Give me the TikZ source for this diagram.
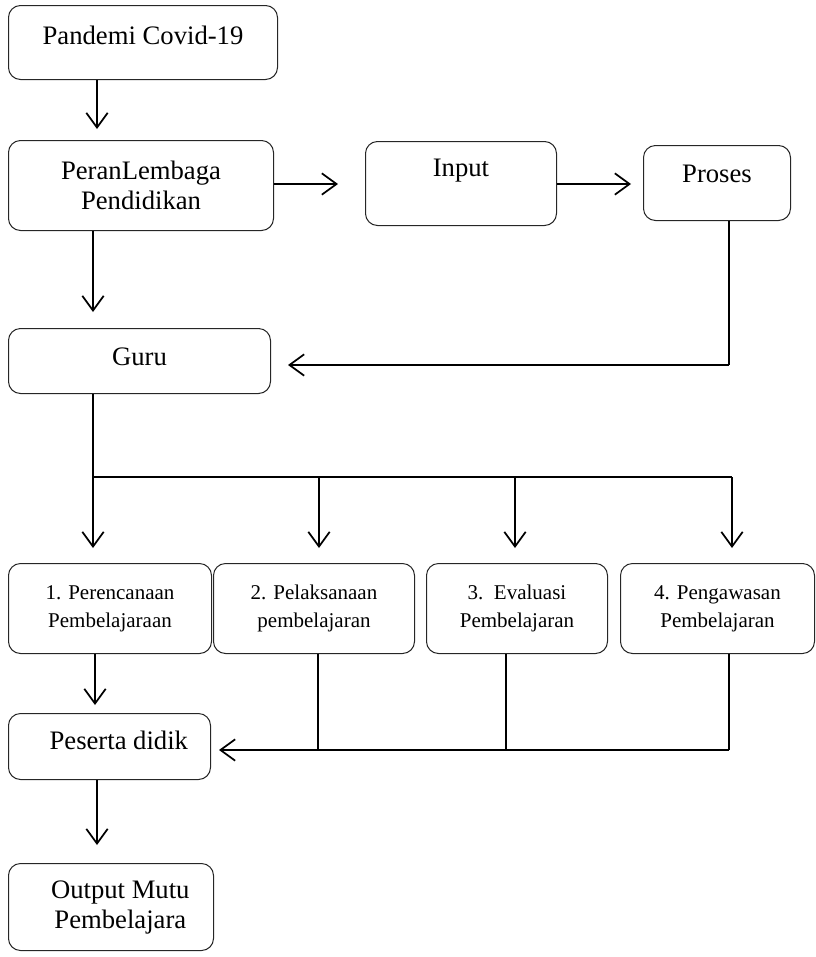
\documentclass[tikz,border=0pt]{standalone}
\usepackage{fontspec}
\setmainfont{Liberation Serif}
\usetikzlibrary{arrows.meta}

\tikzset{
  blok/.style = {draw=black!85, line width=0.75pt, rounded corners=9pt,
    anchor=north west, align=center, inner sep=2pt,
    font=\fontsize{20}{22.5}\selectfont},
  kecil/.style = {font=\fontsize{15.75}{21}\selectfont},
  >={Straight Barb[length=11pt, width=16pt]},
  panah/.style = {->, line width=1.3pt},
  garis/.style = {line width=0.8pt}
}

\begin{document}
\begin{tikzpicture}[x=0.75pt, y=-0.75pt]
\useasboundingbox (0,0) rectangle (816,957);

\node[blok, minimum width=201.75pt, minimum height=55.5pt, text depth=10.5pt]
	(covid) at (8,5) {Pandemi Covid-19};
\node[blok, minimum width=198.75pt, minimum height=67.5pt]
	(lembaga) at (8,140) {PeranLembaga\\Pendidikan};
\node[blok, minimum width=143.25pt, minimum height=63pt, text depth=24pt]
	(input) at (365,141) {Input};
\node[blok, minimum width=110.25pt, minimum height=56.25pt, text depth=13.5pt]
	(proses) at (643,145) {Proses};
\node[blok, minimum width=196.5pt, minimum height=48.75pt, text depth=7pt]
	(guru) at (8,328) {Guru};

\node[blok, kecil, minimum width=152.25pt, minimum height=67.5pt]
	(rencana) at (8,563) {1. Perencanaan\\Pembelajaraan};
\node[blok, kecil, minimum width=150.75pt, minimum height=67.5pt]
	(laksana) at (213,563) {2. Pelaksanaan\\pembelajaran};
\node[blok, kecil, minimum width=135.75pt, minimum height=67.5pt]
	(evaluasi) at (426,563) {3.\ \ Evaluasi\\Pembelajaran};
\node[blok, kecil, minimum width=145.5pt, minimum height=67.5pt]
	(awas) at (620,563) {4. Pengawasan\\Pembelajaran};

\node[blok, minimum width=151.5pt, minimum height=49.5pt, text depth=9pt]
	(peserta) at (8,713) {\hspace*{14pt}Peserta didik};
\node[blok, minimum width=153.75pt, minimum height=65.25pt]
	(output) at (8,863) {\hspace*{14pt}Output Mutu\\\hspace*{14pt}Pembelajara};

% ujung panah
\coordinate (t1) at (97,129);
\coordinate (t2) at (338,184);
\coordinate (t3) at (631,184);
\coordinate (t4) at (93,312);
\coordinate (s5) at (729,365);
\coordinate (t5) at (288,365);
\coordinate (t7) at (95,705);
\coordinate (t9) at (97,845);

\draw[panah] (covid.south -| t1) -- (t1);
\draw[panah] (lembaga.east |- t2) -- (t2);
\draw[panah] (input.east |- t3) -- (t3);
\draw[panah] (lembaga.south -| t4) -- (t4);
\draw[garis] (proses.south -| s5) -- (s5);
\draw[panah] (s5) -- (t5);

\foreach \x/\n in {93/1, 319/2, 515/3, 732/4} {
	\coordinate (b\n) at (\x,477);
	\coordinate (u\n) at (\x,548);
	\draw[panah] (b\n) -- (u\n);
}
\draw[garis] (guru.south -| b1) -- (b1) -- (b4);

\draw[panah] (rencana.south -| t7) -- (t7);

\foreach \x/\n in {318/2, 506/3, 729/4}
	\coordinate (g\n) at (\x,750);
\coordinate (t8) at (219,750);
\draw[garis] (laksana.south -| g2) -- (g2);
\draw[garis] (evaluasi.south -| g3) -- (g3);
\draw[garis] (awas.south -| g4) -- (g4);
\draw[panah] (g4) -- (t8);

\draw[panah] (peserta.south -| t9) -- (t9);
\end{tikzpicture}
\end{document}
